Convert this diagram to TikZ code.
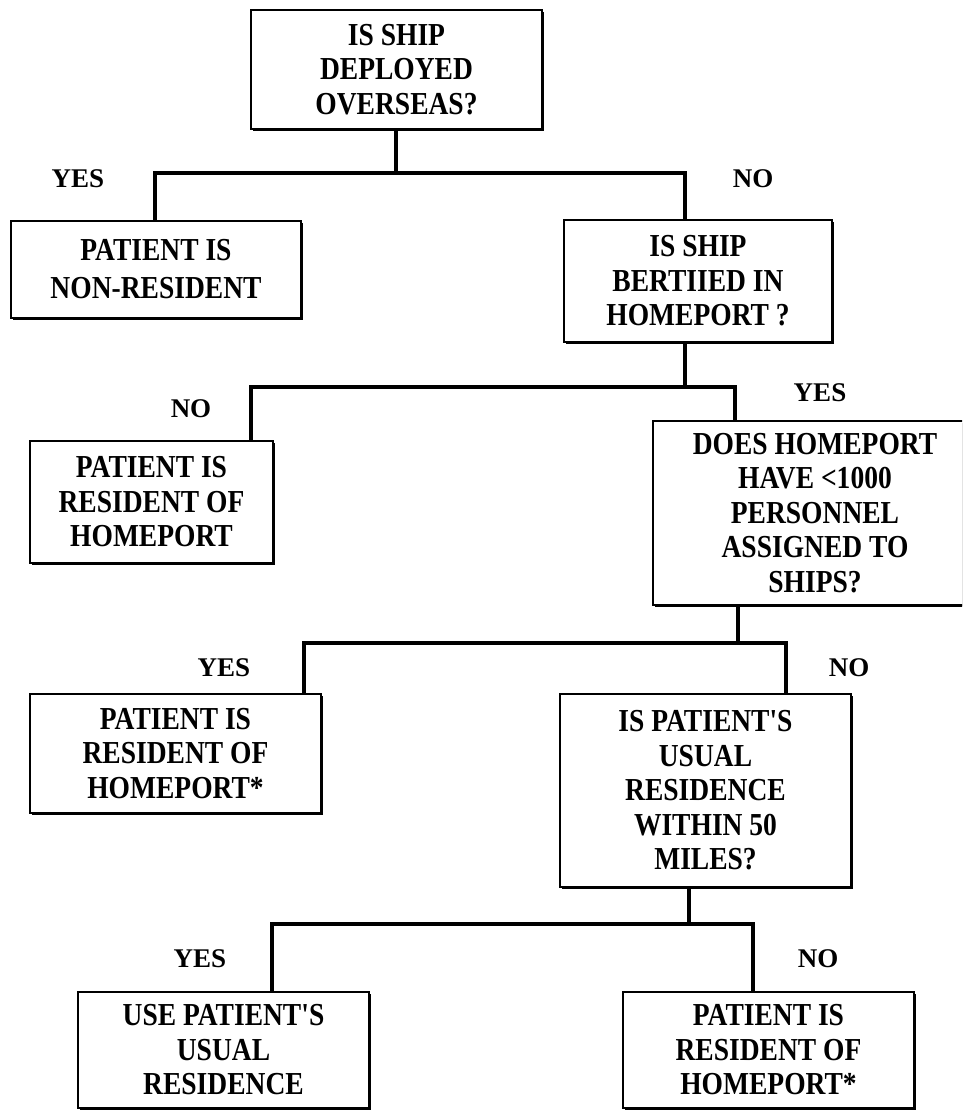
\documentclass[tikz,border=0pt]{standalone}
\usepackage{fontspec}
\setmainfont{Liberation Serif}
\newfontfamily\boxfont[FakeStretch=0.86]{Liberation Serif}
\usetikzlibrary{shadows}
\begin{document}
\begin{tikzpicture}[x=1pt,y=-1pt,
  boxtext/.style={inner sep=0pt, align=center,
    font=\boxfont\bfseries\fontsize{32}{34.5}\selectfont},
  qbox/.style={boxtext, draw, line width=1.8pt, fill=white,
    drop shadow={shadow xshift=1.8pt, shadow yshift=-1.8pt, opacity=1, fill=black}},
  qframe/.style={draw, line width=1.8pt, fill=white,
    drop shadow={shadow xshift=1.8pt, shadow yshift=-1.8pt, opacity=1, fill=black}},
  lbl/.style={font=\bfseries\fontsize{27}{30}\selectfont, inner sep=0pt},
  conn/.style={line width=4pt}]
\useasboundingbox (0,0) rectangle (962,1111);
\clip (0,0) rectangle (962,1111);

% boxes
\node[qbox, minimum width=291, minimum height=119] (b1) at (396.5,69.5) {IS SHIP\\DEPLOYED\\OVERSEAS?};
\node[qbox, minimum width=290, minimum height=97,
  font=\boxfont\bfseries\fontsize{32}{38}\selectfont] (b2) at (156,269.5) {PATIENT IS\\NON-RESIDENT};
\node[qbox, minimum width=268, minimum height=122] (b3) at (698,281) {IS SHIP\\BERTIIED IN\\HOMEPORT ?};
\node[qbox, minimum width=243, minimum height=122] (b4) at (151.5,502) {PATIENT IS\\RESIDENT OF\\HOMEPORT};
% box running off the right edge of the picture
\draw[qframe] (653,421) rectangle (1010,605);
\node[boxtext, minimum width=300, minimum height=184] (b5) at (815,513) {DOES HOMEPORT\\HAVE <1000\\PERSONNEL\\ASSIGNED TO\\SHIPS?};
\node[qbox, minimum width=291, minimum height=119] (b6) at (175.5,753.5) {PATIENT IS\\RESIDENT OF\\HOMEPORT*};
\node[qbox, minimum width=291, minimum height=193] (b7) at (705.5,790.5) {IS PATIENT'S\\USUAL\\RESIDENCE\\WITHIN 50\\MILES?};
\node[qbox, minimum width=291, minimum height=116] (b8) at (223.5,1050) {USE PATIENT'S\\USUAL\\RESIDENCE};
\node[qbox, minimum width=291, minimum height=116] (b9) at (768.5,1050) {PATIENT IS\\RESIDENT OF\\HOMEPORT*};

% junction coordinates
\coordinate (s1) at (396,173);
\coordinate (l1) at (155,173);
\coordinate (r1) at (685,173);
\coordinate (s2) at (685,387);
\coordinate (l2) at (251,387);
\coordinate (r2) at (735,387);
\coordinate (s3) at (738,643);
\coordinate (l3) at (304,643);
\coordinate (r3) at (786,643);
\coordinate (s4) at (689,924);
\coordinate (l4) at (272,924);
\coordinate (r4) at (753,924);

% connectors
\draw[conn] (b1.south -| s1) -- (s1);
\draw[conn] (b2.north -| l1) -- (l1) -- (r1) -- (b3.north -| r1);
\draw[conn] (b3.south -| s2) -- (s2);
\draw[conn] (b4.north -| l2) -- (l2) -- (r2) -- (b5.north -| r2);
\draw[conn] (b5.south -| s3) -- (s3);
\draw[conn] (b6.north -| l3) -- (l3) -- (r3) -- (b7.north -| r3);
\draw[conn] (b7.south -| s4) -- (s4);
\draw[conn] (b8.north -| l4) -- (l4) -- (r4) -- (b9.north -| r4);

% labels
\node[lbl] (y1) at (78,179) {YES};
\node[lbl] (n1) at (753,179) {NO};
\node[lbl] (n2) at (191,409) {NO};
\node[lbl] (y2) at (820,393) {YES};
\node[lbl] (y3) at (224,668) {YES};
\node[lbl] (n3) at (849,668) {NO};
\node[lbl] (y4) at (200,959) {YES};
\node[lbl] (n4) at (818,959) {NO};
\end{tikzpicture}
\end{document}
